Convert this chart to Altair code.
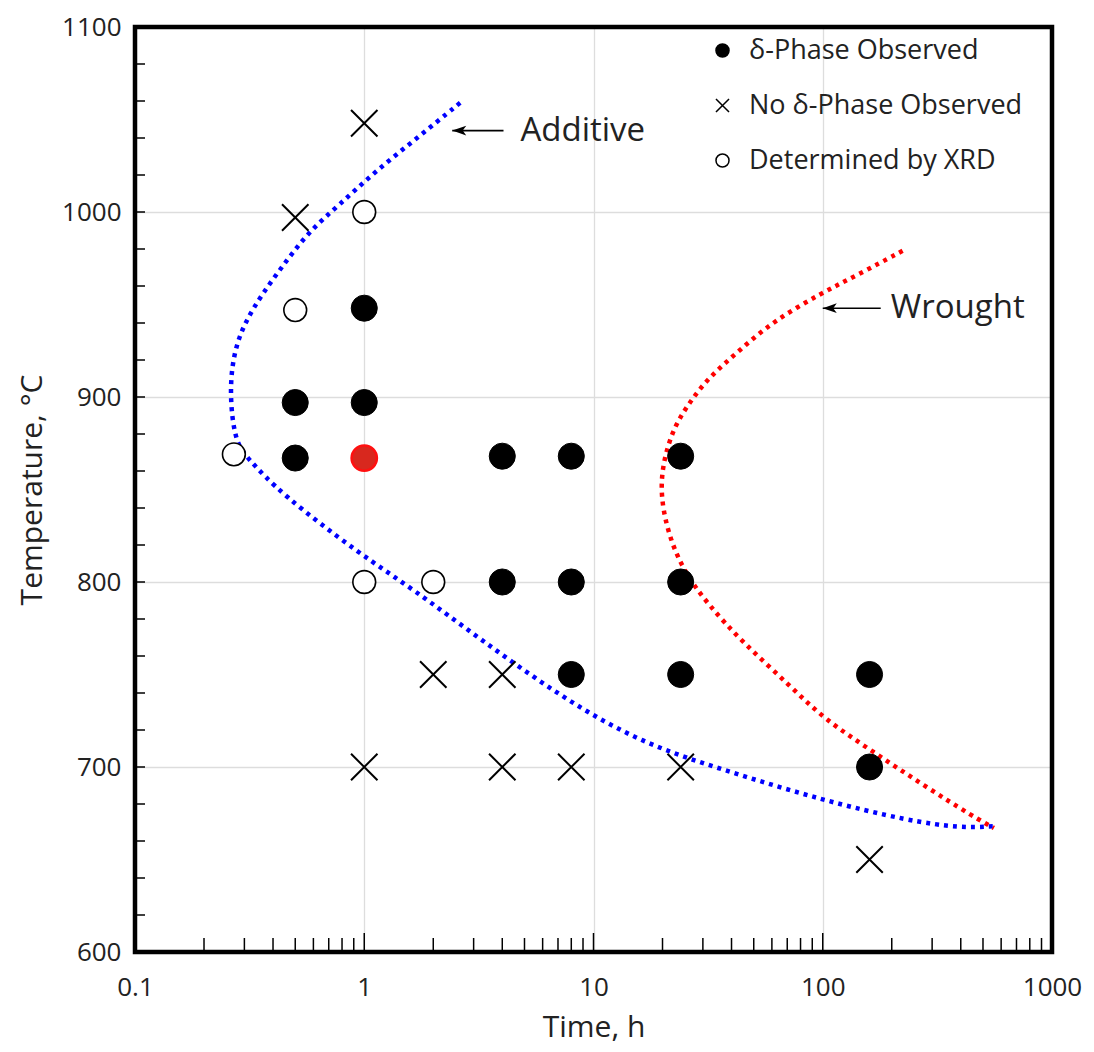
import altair as alt
import pandas as pd

# ---------------- data ----------------
legend_labels = ["δ-Phase Observed", "No δ-Phase Observed", "Determined by XRD"]

filled_t = [1, 0.5, 1, 0.5, 4, 8, 24, 4, 8, 24, 8, 24, 160, 160]
filled_T = [948, 897, 897, 867, 868, 868, 868, 800, 800, 800, 750, 750, 750, 700]

cross_t = [1, 0.5, 2, 4, 1, 4, 8, 24, 160]
cross_T = [1048, 997, 750, 750, 700, 700, 700, 700, 650]

open_t = [1, 0.5, 0.27, 1, 2]
open_T = [1000, 947, 869, 800, 800]

red_t = [1]
red_T = [867]

additive_t = [2.62, 1.70, 1.12, 0.78, 0.58, 0.46, 0.36, 0.30, 0.27, 0.26,
              0.265, 0.28, 0.31, 0.43, 0.96, 1.64, 3.21, 7.2, 16, 40,
              100, 235, 400, 558]
additive_T = [1059, 1040, 1022, 1004, 990, 974, 956, 940, 924, 906,
              888, 874, 867, 848, 815, 796, 769, 738, 713, 697,
              682, 671, 667, 668]

wrought_t = [223, 142, 98, 61, 44, 31.5, 26.6, 22.4, 20, 19.6, 21.3, 24.7, 31.5,
             45, 72, 101, 167, 276, 456, 558]
wrought_T = [979, 966, 956, 941, 926, 910, 898, 884, 864, 846, 825, 806, 788,
             767, 744, 726, 708, 690, 673, 667]

annot_labels = ["Additive", "Wrought"]
annot_text_t = [4.8, 198]
annot_T = [1044, 948]
arrow_head_t = [2.42, 100]
arrow_tail_t = [4.05, 179]

x_ticks_major = [0.1, 1, 10, 100, 1000]
x_minor = [k * 10 ** e for e in (-1, 0, 1, 2) for k in range(2, 10)]
x_mid_major = [1, 10, 100]
y_ticks_major = [600, 700, 800, 900, 1000, 1100]
y_minor = list(range(620, 1100, 20))

# ---------------- layout / style ----------------
W, H = 917, 925
FONT = "Open Sans"
TXT = "#222222"
XPATH = "M-1,-1L1,1M-1,1L1,-1"
ARROW = "M0,0L2,-0.7L1.5,0L2,0.7Z"

xs = alt.Scale(type="log", domain=[0.1, 1000], nice=False)
ys = alt.Scale(domain=[600, 1100], nice=False, zero=False)

x_axis = alt.Axis(values=x_ticks_major, format="~g", labelFlush=False,
                  labelOverlap=False, ticks=False, domain=False,
                  grid=True, labelPadding=22, titlePadding=12)
y_axis = alt.Axis(values=y_ticks_major, format="d", labelFlush=False,
                  labelOverlap=False, ticks=False, domain=False,
                  grid=True, labelPadding=14, titlePadding=14)


def X(field="t"):
    return alt.X(f"{field}:Q", scale=xs, title="Time, h", axis=x_axis)


y_enc = alt.Y("T:Q", scale=ys, title="Temperature, °C", axis=y_axis)

legend = alt.Legend(title=None, orient="none", legendX=574, legendY=10,
                    labelFontSize=27, labelFont=FONT, labelColor=TXT,
                    labelLimit=0, symbolSize=170, symbolStrokeWidth=1.5,
                    symbolStrokeColor="black", rowPadding=27, labelOffset=13,
                    padding=0)
shape_enc = alt.Shape("kind:N", scale=alt.Scale(domain=legend_labels,
                      range=["circle", XPATH, "circle"]), legend=legend)
fill_enc = alt.Fill("kind:N", scale=alt.Scale(domain=legend_labels,
                    range=["black", "black", "white"]), legend=legend)
stroke_enc = alt.Stroke("kind:N", scale=alt.Scale(domain=legend_labels,
                        range=["black", "black", "black"]), legend=legend)


def pts(ts, Ts, kind):
    return pd.DataFrame({"t": ts, "T": Ts, "kind": kind})


def curve(ts, Ts):
    return pd.DataFrame({"t": ts, "T": Ts, "seq": list(range(len(ts)))})


# inward ticks (drawn as rules from tick-value lists)
xtick_minor = alt.Chart(pd.DataFrame({"t": x_minor})).mark_rule(
    color="black", strokeWidth=1.5).encode(x=X(), y=alt.value(H), y2=alt.value(H - 14))
xtick_major = alt.Chart(pd.DataFrame({"t": x_mid_major})).mark_rule(
    color="black", strokeWidth=1.5).encode(x=X(), y=alt.value(H), y2=alt.value(H - 19))
ytick = alt.Chart(pd.DataFrame({"T": y_minor})).mark_rule(
    color="black", strokeWidth=1.5).encode(y=y_enc, x=alt.value(0), x2=alt.value(10))

# plot frame
frame = alt.Chart(pd.DataFrame({"f": [0]})).mark_rect(
    fill=None, stroke="black", strokeWidth=4.5
).encode(x=alt.value(0), x2=alt.value(W), y=alt.value(0), y2=alt.value(H))

blue = alt.Chart(curve(additive_t, additive_T)).mark_line(
    color="#0000ff", strokeWidth=4.5, strokeDash=[4, 5], interpolate="basis"
).encode(x=X(), y=y_enc, order="seq:Q")
red = alt.Chart(curve(wrought_t, wrought_T)).mark_line(
    color="#ff0000", strokeWidth=4.5, strokeDash=[4, 5], interpolate="basis"
).encode(x=X(), y=y_enc, order="seq:Q")

filled = alt.Chart(pts(filled_t, filled_T, legend_labels[0])).mark_point(
    size=680, strokeWidth=1, opacity=1
).encode(x=X(), y=y_enc, shape=shape_enc, fill=fill_enc, stroke=stroke_enc)
crosses = alt.Chart(pts(cross_t, cross_T, legend_labels[1])).mark_point(
    size=700, strokeWidth=2, opacity=1
).encode(x=X(), y=y_enc, shape=shape_enc, fill=fill_enc, stroke=stroke_enc)
opens = alt.Chart(pts(open_t, open_T, legend_labels[2])).mark_point(
    size=520, strokeWidth=1.6, opacity=1
).encode(x=X(), y=y_enc, shape=shape_enc, fill=fill_enc, stroke=stroke_enc)
redpt = alt.Chart(pd.DataFrame({"t": red_t, "T": red_T})).mark_point(
    shape="circle", size=640, fill="#d8281e", stroke="#ff1010", strokeWidth=2.5,
    opacity=1, filled=True
).encode(x=X(), y=y_enc)

adf = pd.DataFrame({"t": annot_text_t, "T": annot_T, "label": annot_labels,
                    "head": arrow_head_t, "tail": arrow_tail_t})
atext = alt.Chart(adf).mark_text(align="left", baseline="middle", fontSize=33,
                                 font=FONT, color=TXT).encode(x=X(), y=y_enc, text="label:N")
aline = alt.Chart(adf).mark_rule(color="black", strokeWidth=1.6).encode(
    x=X("head"), x2="tail:Q", y=y_enc)
ahead = alt.Chart(adf).mark_point(shape=ARROW, size=196, filled=True, color="black",
                                  opacity=1).encode(x=X("head"), y=y_enc)

chart = alt.layer(
    blue, red, xtick_minor, xtick_major, ytick,
    filled, crosses, opens, redpt, aline, ahead, atext, frame
).properties(
    width=W, height=H,
    autosize=alt.AutoSizeParams(type="none"),
    padding={"left": 127, "top": 19, "right": 30, "bottom": 92},
    background="white",
).configure_view(
    stroke=None
).configure_axis(
    labelFont=FONT, labelFontSize=26, labelColor=TXT,
    titleFont=FONT, titleFontSize=30, titleFontWeight="normal", titleColor=TXT,
    gridColor="#dddddd", gridWidth=1.3,
)

chart.save("out.html", embed_options={"renderer": "svg", "actions": False})
